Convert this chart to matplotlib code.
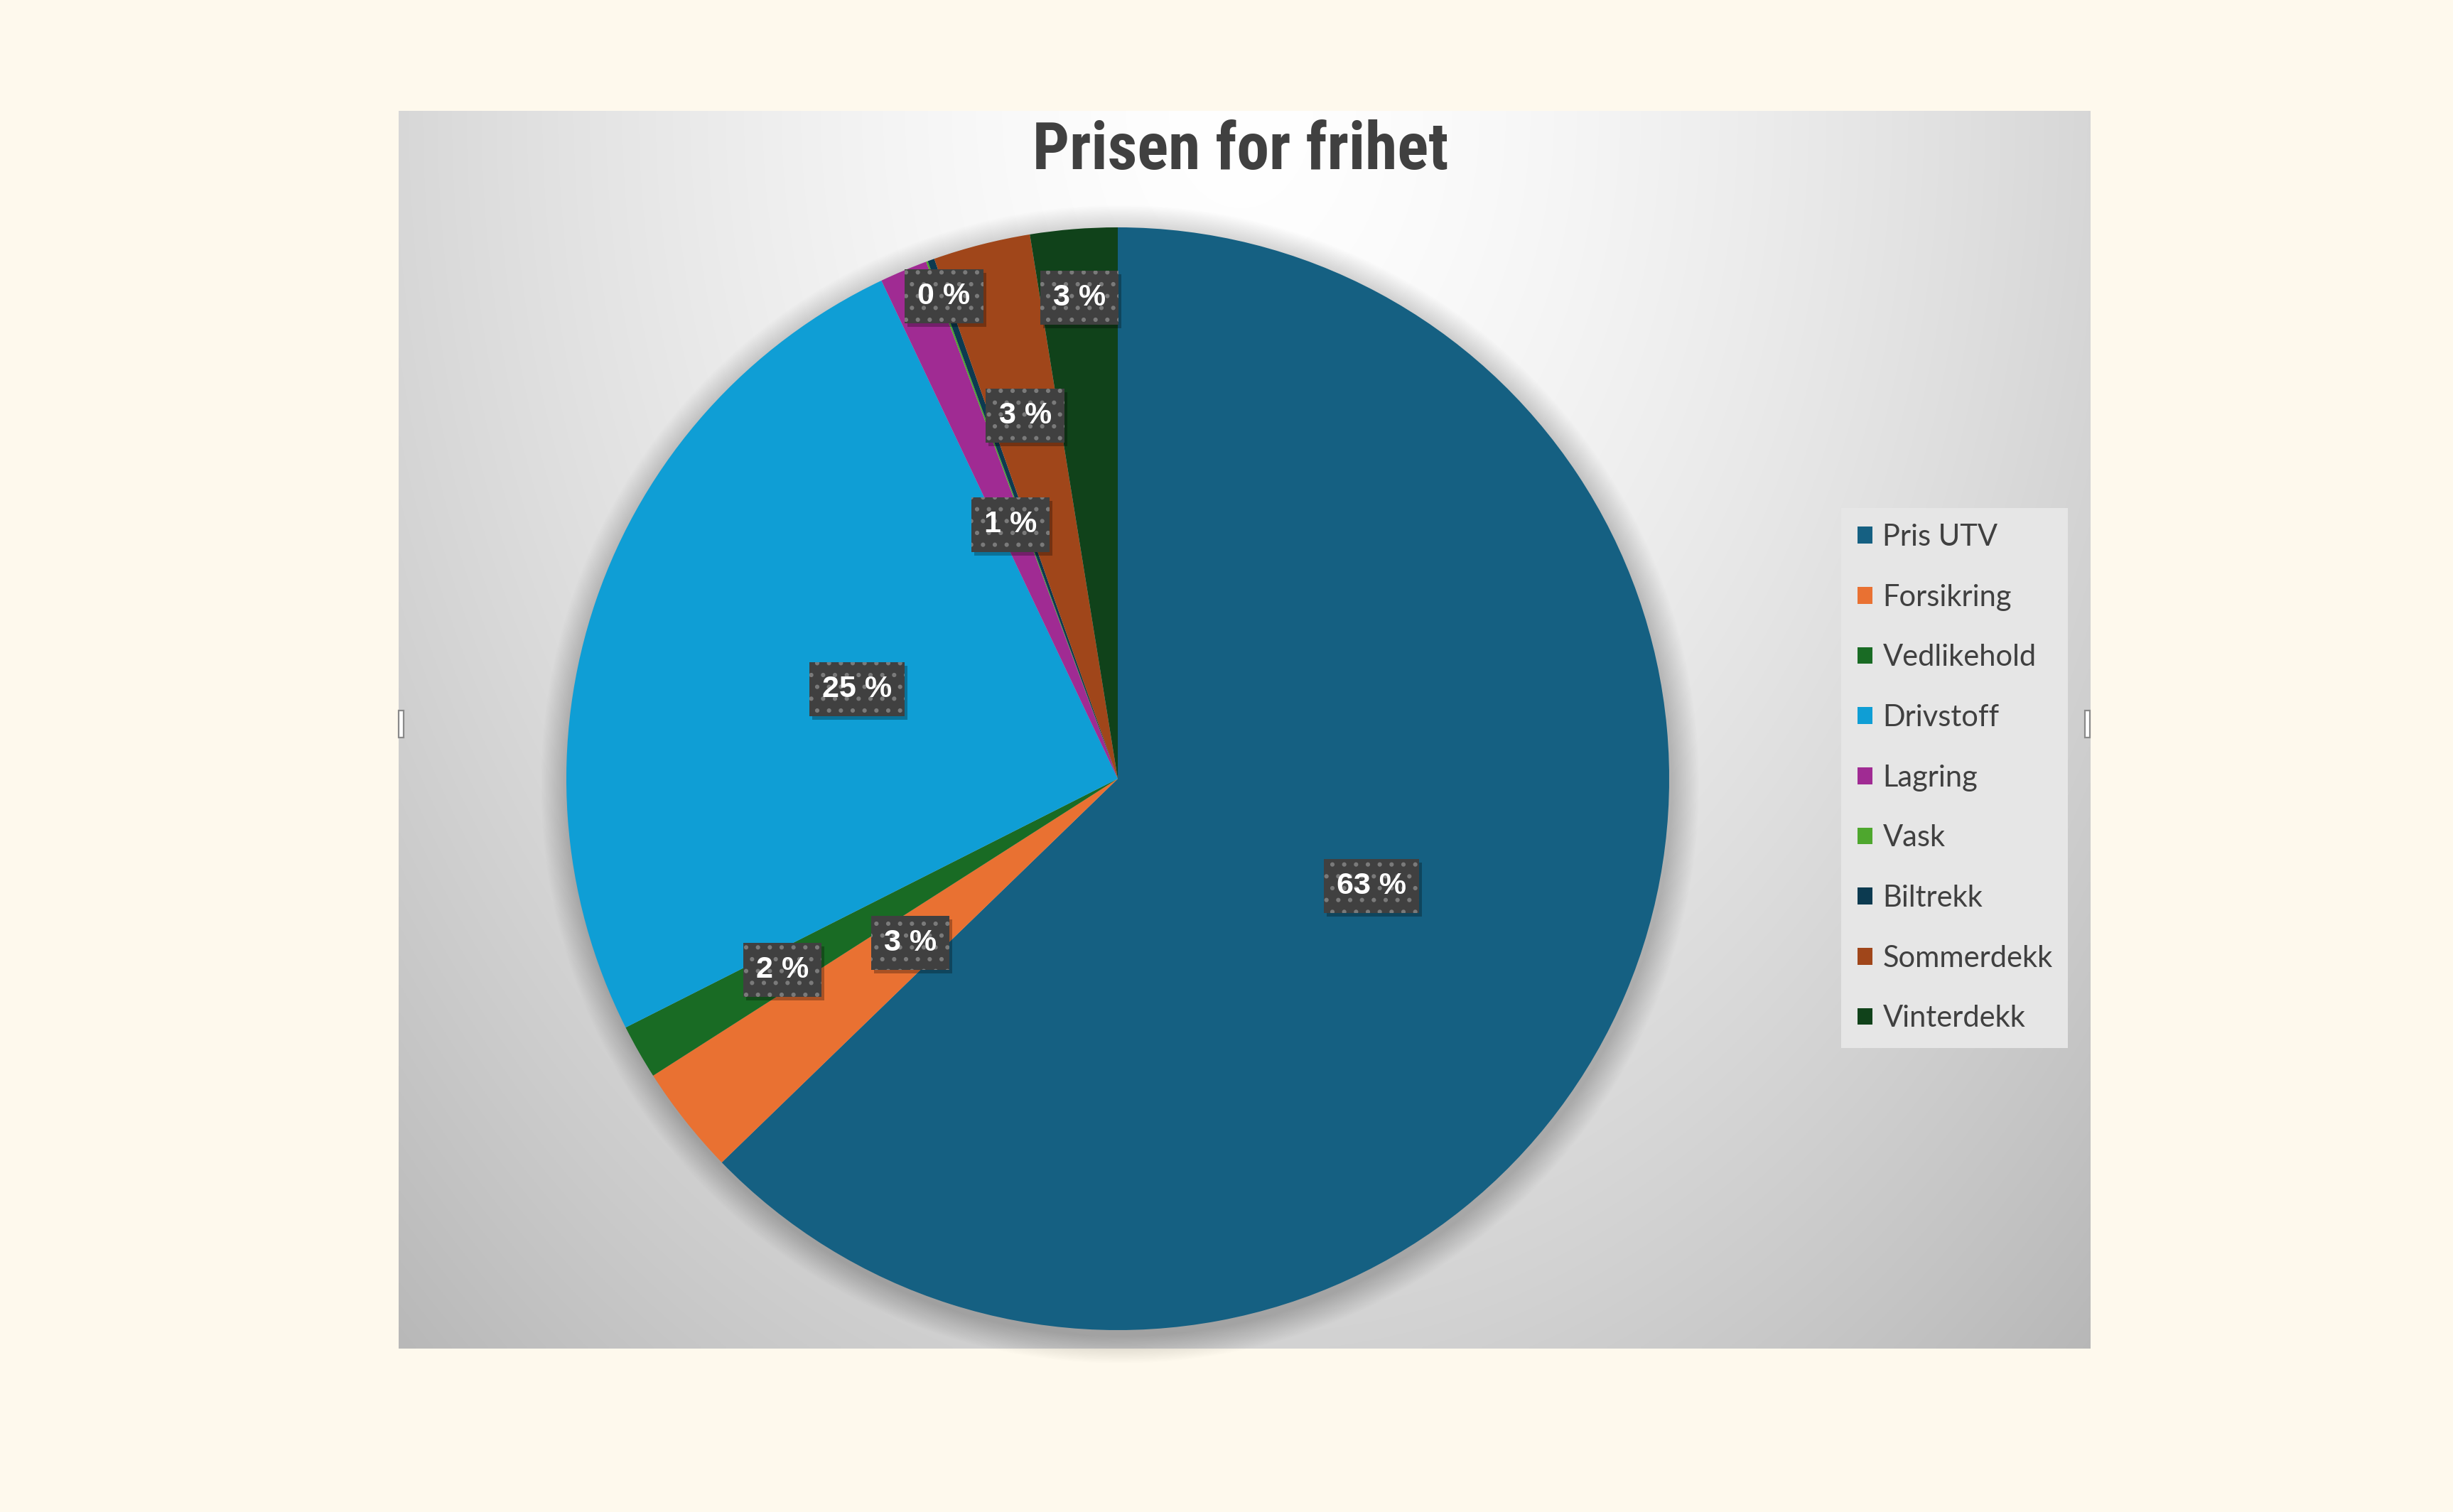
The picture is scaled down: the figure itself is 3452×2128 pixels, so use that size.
import numpy as np
import matplotlib
matplotlib.use('Agg')
import matplotlib.pyplot as plt
import matplotlib.font_manager as fm
from matplotlib.patches import Circle, Rectangle
import matplotlib.transforms as mtransforms

# ---------------- data ----------------
title = 'Prisen for frihet'
categories = ['Pris UTV', 'Forsikring', 'Vedlikehold', 'Drivstoff', 'Lagring',
              'Vask', 'Biltrekk', 'Sommerdekk', 'Vinterdekk']
shares = [62.75, 3.2, 1.6, 25.4, 1.4, 0.05, 0.2, 2.85, 2.55]   # percent of total
colors = ['#156082', '#E97132', '#196B24', '#0F9ED5', '#A02B93',
          '#4EA72E', '#0C3A50', '#A0461A', '#10421A']
# radial position of each data label (fraction of radius); None = no label
label_dist = [0.5, 0.48, 0.70, 0.5, 0.5, None, 0.93, 0.68, 0.875]

# ---------------- find a condensed bold font for the title ----------------
def find_condensed_bold():
    prefs = ['Liberation Sans Narrow', 'Roboto Condensed', 'Open Sans Condensed',
             'Noto Sans', 'DejaVu Sans', 'Open Sans', 'Roboto', 'Inter', 'Lato']
    best = None
    for f in fm.fontManager.ttflist:
        name = f.name
        fname = f.fname.lower()
        is_cond = ('narrow' in name.lower() or 'condensed' in name.lower()
                   or 'condensed' in fname or 'narrow' in fname
                   or str(f.stretch) in ('condensed', 'semi-condensed', 'extra-condensed', '500', '300', '400'))
        if not is_cond or 'extra' in fname or 'semi' in fname or 'ultra' in fname:
            continue
        w = f.weight
        try:
            w = int(w)
        except Exception:
            w = {'bold': 700, 'normal': 400, 'regular': 400}.get(str(w), 400)
        if w != 700 or 'italic' in fname or 'oblique' in fname or f.style != 'normal':
            continue
        rank = next((i for i, p in enumerate(prefs) if name.startswith(p)), len(prefs))
        if best is None or rank < best[0]:
            best = (rank, f.fname)
    return best[1] if best else None

cond_path = find_condensed_bold()

# ---------------- figure ----------------
W, H = 3452, 2128
DPI = 200
fig = plt.figure(figsize=(W / DPI, H / DPI), dpi=DPI, facecolor='#FEF9ED')

# chart area with radial gray gradient
cx0, cy0, cx1, cy1 = 561, 156, 2941, 1898
bg_ax = fig.add_axes([cx0 / W, 1 - cy1 / H, (cx1 - cx0) / W, (cy1 - cy0) / H])
bg_ax.set_axis_off()
ny, nx = 400, 550
yy, xx = np.mgrid[0:ny, 0:nx]
px = cx0 + (xx + 0.5) / nx * (cx1 - cx0)
py = cy0 + (yy + 0.5) / ny * (cy1 - cy0)
t = np.sqrt(((px - 1746) / 1400) ** 2 + ((py - 156) / 1900) ** 2)
g = np.clip((255 - 51 * t ** 1.5) / 255, 0, 1)
bg_ax.imshow(np.dstack([g, g, g]), extent=[0, 1, 0, 1], origin='upper',
             aspect='auto', interpolation='bilinear')
bg_ax.set_xlim(0, 1)
bg_ax.set_ylim(0, 1)

# selection handles on chart area edges
for hx in (cx0, cx1 - 7):
    fig.add_artist(Rectangle((hx / W, 1 - 1038 / H), 7 / W, 38 / H,
                             transform=fig.transFigure, fc='white',
                             ec='#8a8a8a', lw=0.8, zorder=2))

# pie
pcx, pcy, R = 1573, 1096, 776
L = 1.1
pie_ax = fig.add_axes([(pcx - L * R) / W, 1 - (pcy + L * R) / H,
                       2 * L * R / W, 2 * L * R / H])
pie_ax.set_axis_off()
# soft shadow
n_sh = 24
for i in range(n_sh):
    r = 1.0 + 0.05 * (i + 1) / n_sh
    pie_ax.add_patch(Circle((0.004, -0.01), r, fc='black', ec='none',
                            alpha=0.008, zorder=0))

wedges, _ = pie_ax.pie(shares, colors=colors, startangle=90, counterclock=False,
                       radius=1, wedgeprops=dict(linewidth=0))
pie_ax.set_xlim(-L, L)
pie_ax.set_ylim(-L, L)
pie_ax.set_aspect('equal')

total = sum(shares)
label_font = ['Liberation Sans', 'DejaVu Sans']
shadow_tr = mtransforms.offset_copy(pie_ax.transData, fig=fig, x=4, y=-5, units='dots')
for w, v, d in zip(wedges, shares, label_dist):
    if d is None:
        continue
    ang = np.deg2rad((w.theta1 + w.theta2) / 2)
    x, y = d * np.cos(ang), d * np.sin(ang)
    txt = f"{v / total * 100:.0f} %"
    pie_ax.text(x, y, txt, transform=shadow_tr, ha='center', va='center',
                fontsize=15.5, fontweight='bold', family=label_font, color='none',
                bbox=dict(boxstyle='square,pad=0.42', fc='black', ec='none', alpha=0.28),
                zorder=4)
    pie_ax.text(x, y, txt, ha='center', va='center', fontsize=15.5,
                fontweight='bold', family=label_font, color='white',
                bbox=dict(boxstyle='square,pad=0.42', fc='#404040', ec='#7a7a7a',
                          lw=0, hatch='..'),
                zorder=5)

# title
if cond_path:
    title_fp = fm.FontProperties(fname=cond_path, size=33)
else:
    title_fp = fm.FontProperties(family=['Liberation Sans', 'DejaVu Sans'],
                                 weight='bold', size=28)
fig.text(1746 / W, 1 - 238 / H, title, ha='center', va='baseline',
         fontproperties=title_fp, color='#404040')

# legend box and legend
fig.add_artist(Rectangle((2591 / W, 1 - 1475 / H), 319 / W, 760 / H,
                         transform=fig.transFigure, fc='#E6E6E6', ec='none', zorder=1))
leg = fig.legend(wedges, categories, loc='upper left',
                 bbox_to_anchor=(2614 / W, 1 - 737 / H), frameon=False,
                 prop=dict(family=['Lato', 'DejaVu Sans'], size=15),
                 handlelength=0.5, handleheight=0.5, handletextpad=0.35,
                 labelspacing=1.12, borderpad=0, borderaxespad=0)
for tx in leg.get_texts():
    tx.set_color('#404040')

fig.savefig('out.png', dpi=DPI, facecolor=fig.get_facecolor())
